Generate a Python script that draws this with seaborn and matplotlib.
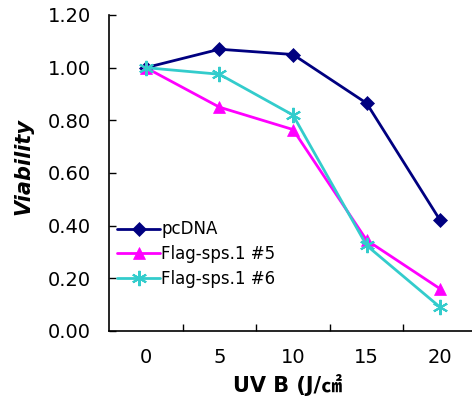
import pandas as pd
import numpy as np
import matplotlib
matplotlib.use("Agg")
import matplotlib.pyplot as plt
import seaborn as sns
from matplotlib.ticker import FixedLocator

doses = ["0", "5", "10", "15", "20"]
pcdna = [1.00, 1.07, 1.05, 0.865, 0.42]
flag5 = [1.00, 0.85, 0.765, 0.345, 0.16]
flag6 = [1.00, 0.975, 0.82, 0.325, 0.09]
series_names = ["pcDNA", "Flag-sps.1 #5", "Flag-sps.1 #6"]
colors = ["#000080", "#FF00FF", "#33CCCC"]

sns.set_style("ticks", {"text.color": "black", "xtick.color": "black",
                        "ytick.color": "black", "axes.labelcolor": "black"})
plt.rcParams["font.family"] = ["DejaVu Sans", "Noto Sans CJK KR"]

df = pd.DataFrame({
    "dose": doses * 3,
    "viability": pcdna + flag5 + flag6,
    "series": [s for s in series_names for _ in doses],
})

fig = plt.figure(figsize=(4.72, 4.05), dpi=100)
ax = fig.add_axes([109 / 472, 74 / 405, 368 / 472, 316 / 405])

markers = ["D", "^", (6, 2, 0)]
sizes = [7, 9, 11]
for name, col, mk, ms in zip(series_names, colors, markers, sizes):
    sub = df[df["series"] == name]
    sns.lineplot(data=sub, x="dose", y="viability", ax=ax, color=col,
                 marker=mk, markersize=ms, markeredgecolor=col,
                 markeredgewidth=1.5 if mk == markers[2] else 0.5,
                 linewidth=2, label=name, sort=False)

ax.set_xlim(-0.5, 4.5)
ax.set_ylim(0, 1.2)
yt = np.arange(0, 1.21, 0.2)
ax.set_yticks(yt)
ax.set_yticklabels([f"{v:.2f}" for v in yt], fontsize=14)
ax.xaxis.set_major_locator(FixedLocator([0.5, 1.5, 2.5, 3.5]))
ax.set_xticklabels([])
ax.xaxis.set_minor_locator(FixedLocator(range(len(doses))))
ax.set_xticklabels(doses, minor=True, fontsize=14)
ax.tick_params(axis="x", which="minor", length=0, pad=12)
ax.tick_params(axis="both", which="major", direction="in", length=5, width=1, color="black")
ax.tick_params(axis="y", pad=13)

sns.despine(ax=ax)
for sp in ["left", "bottom"]:
    ax.spines[sp].set_color("black")
    ax.spines[sp].set_linewidth(1.2)

ax.set_xlabel("UV B (J/㎠", fontsize=15, fontweight="bold")
ax.xaxis.set_label_coords(0.484, -0.137)
ax.set_ylabel("Viability", fontsize=15, fontweight="bold", fontstyle="italic")
ax.yaxis.set_label_coords(-0.205, 0.52)

ax.legend(loc="lower left", bbox_to_anchor=(-0.005, 0.105), frameon=False,
          fontsize=12, handlelength=2.6, handletextpad=0.05, labelspacing=0.4,
          borderaxespad=0.2)

fig.savefig("out.png", dpi=100)
